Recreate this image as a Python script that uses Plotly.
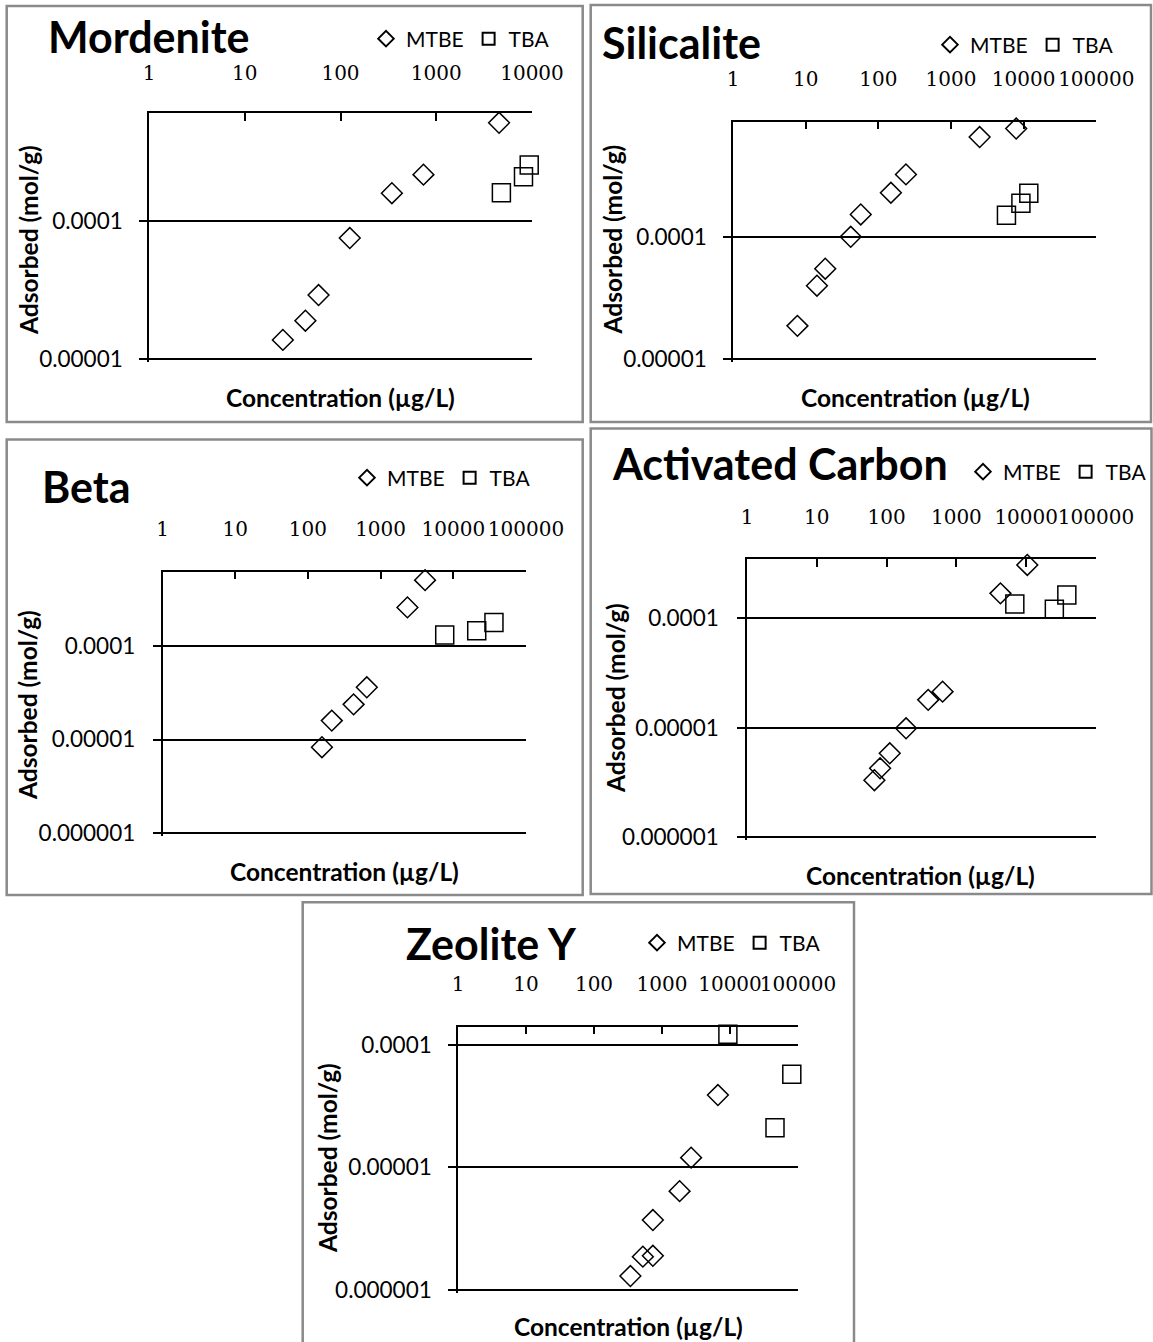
import math
import plotly.graph_objects as go

W, H = 1153, 1342

# ---- adsorption isotherm data: concentration (µg/L) vs adsorbed amount (mol/g) ----
mordenite_mtbe_conc = [25, 43, 59, 125, 344, 735, 4530]
mordenite_mtbe_ads = [1.38e-5, 1.90e-5, 2.91e-5, 7.5e-5, 1.58e-4, 2.15e-4, 5.09e-4]
mordenite_tba_conc = [4790, 8150, 9350]
mordenite_tba_ads = [1.59e-4, 2.08e-4, 2.52e-4]

silicalite_mtbe_conc = [7.7, 14.3, 18.6, 41.7, 57.3, 149, 240, 2480, 7900]
silicalite_mtbe_ads = [1.88e-5, 4.01e-5, 5.53e-5, 1.01e-4, 1.54e-4, 2.32e-4, 3.28e-4, 6.64e-4, 7.8e-4]
silicalite_tba_conc = [5800, 9170, 11780]
silicalite_tba_ads = [1.52e-4, 1.90e-4, 2.30e-4]

beta_mtbe_conc = [156, 213, 425, 646, 2340, 4090]
beta_mtbe_ads = [8.27e-6, 1.59e-5, 2.37e-5, 3.6e-5, 2.56e-4, 5.0e-4]
beta_tba_conc = [7620, 21000, 36250]
beta_tba_ads = [1.30e-4, 1.44e-4, 1.77e-4]

carbon_mtbe_conc = [66.9, 80.7, 111, 190, 394, 634, 4275, 10370]
carbon_mtbe_ads = [3.32e-6, 4.27e-6, 5.85e-6, 9.9e-6, 1.8e-5, 2.14e-5, 1.69e-4, 3.07e-4]
carbon_tba_conc = [6870, 25300, 38200]
carbon_tba_ads = [1.35e-4, 1.21e-4, 1.63e-4]

zeolite_mtbe_conc = [343, 523, 734, 734, 1815, 2680, 6640]
zeolite_mtbe_ads = [1.30e-6, 1.87e-6, 1.90e-6, 3.72e-6, 6.4e-6, 1.2e-5, 3.89e-5]
zeolite_tba_conc = [9310, 45900, 81100]
zeolite_tba_ads = [1.22e-4, 2.10e-5, 5.74e-5]

x_ticks_4 = [1, 10, 100, 1000, 10000]
x_ticks_5 = [1, 10, 100, 1000, 10000, 100000]
y_ticks_2 = [1e-5, 1e-4]
y_ticks_3 = [1e-6, 1e-5, 1e-4]
y_tick_text = {1e-6: "0.000001", 1e-5: "0.00001", 1e-4: "0.0001"}

# ---- panel layout (pixels) ----
panels = [
    dict(title="Mordenite", mtbe=(mordenite_mtbe_conc, mordenite_mtbe_ads),
         tba=(mordenite_tba_conc, mordenite_tba_ads), xt=x_ticks_4, yt=y_ticks_2,
         ymin=-5, ymax=-3.225, plot=(149, 113.3, 532, 359.3), box=(6.7, 6, 582.7, 422),
         title_pos=(46, 36), leg=(555, 39), ytitle=(28, 240), xtitle=(340, 397),
         ystand=12, xstand=24),
    dict(title="Silicalite", mtbe=(silicalite_mtbe_conc, silicalite_mtbe_ads),
         tba=(silicalite_tba_conc, silicalite_tba_ads), xt=x_ticks_5, yt=y_ticks_2,
         ymin=-5, ymax=-3.052, plot=(733, 121.7, 1096.3, 359.3), box=(590.7, 5, 1151, 422),
         title_pos=(599.6, 43), leg=(1119, 45), ytitle=(611.5, 240), xtitle=(915, 397),
         ystand=12, xstand=26),
    dict(title="Beta", mtbe=(beta_mtbe_conc, beta_mtbe_ads),
         tba=(beta_tba_conc, beta_tba_ads), xt=x_ticks_5, yt=y_ticks_3,
         ymin=-6, ymax=-3.211, plot=(162.5, 571.7, 526, 833.3), box=(6.7, 439.5, 582.7, 895),
         title_pos=(40, 486), leg=(536, 478), ytitle=(28, 705), xtitle=(344, 871.7),
         ystand=13, xstand=26),
    dict(title="Activated Carbon", mtbe=(carbon_mtbe_conc, carbon_mtbe_ads),
         tba=(carbon_tba_conc, carbon_tba_ads), xt=x_ticks_5, yt=y_ticks_3,
         ymin=-6, ymax=-3.461, plot=(747, 559.3, 1096, 837.3), box=(590.7, 428.5, 1151.5, 894),
         title_pos=(610, 463), leg=(1152, 472), ytitle=(615, 698), xtitle=(920, 875.7),
         ystand=14, xstand=26),
    dict(title="Zeolite Y", mtbe=(zeolite_mtbe_conc, zeolite_mtbe_ads),
         tba=(zeolite_tba_conc, zeolite_tba_ads), xt=x_ticks_5, yt=y_ticks_3,
         ymin=-6, ymax=-3.853, plot=(458, 1026.7, 798, 1290), box=(302.7, 902.3, 854, 1346),
         title_pos=(404, 943), leg=(826, 943), ytitle=(327, 1158), xtitle=(628.6, 1326.7),
         ystand=12, xstand=26),
]

SANS = "Lato, 'Open Sans', sans-serif"
SERIF = "'DejaVu Serif', serif"
BOTTOM_PAD = 2.5  # px below the lowest gridline so it is not clipped at the axis end


def fx(p):
    return p / W


def fy(p):
    return 1 - p / H


fig = go.Figure()
annotations = []
shapes = []
layout = {}

for i, pn in enumerate(panels, start=1):
    sfx = "" if i == 1 else str(i)
    leg_name = "legend" + sfx
    x0, y0, x1, y1 = pn["plot"]
    decade_px = (y1 - y0) / (pn["ymax"] - pn["ymin"])
    ymin = pn["ymin"] - BOTTOM_PAD / decade_px

    for name, (cx, cy), symbol, size in [("MTBE", pn["mtbe"], "diamond", 16),
                                         ("TBA", pn["tba"], "square", 18)]:
        fig.add_trace(go.Scatter(
            x=cx, y=cy, mode="markers", name=name,
            xaxis="x" + sfx, yaxis="y" + sfx, legend=leg_name,
            marker=dict(symbol=symbol, size=size, color="rgba(0,0,0,0)",
                        line=dict(color="black", width=1.5)),
            cliponaxis=False,
        ))

    layout["xaxis" + sfx] = dict(
        type="log", domain=[fx(x0), fx(x1)], anchor="y" + sfx, side="top",
        range=[0, math.log10(pn["xt"][-1])],
        tickvals=pn["xt"], ticktext=[str(v) for v in pn["xt"]],
        ticks="inside", ticklen=8, tickwidth=1.5, tickcolor="black",
        showline=True, linecolor="black", linewidth=1.5,
        showgrid=False, zeroline=False, tickangle=0, automargin=False,
        tickfont=dict(family=SERIF, size=20, color="black"),
        ticklabelstandoff=pn["xstand"],
    )
    layout["yaxis" + sfx] = dict(
        type="log", domain=[fy(y1 + BOTTOM_PAD), fy(y0)], anchor="x" + sfx,
        range=[ymin, pn["ymax"]],
        tickvals=pn["yt"], ticktext=[y_tick_text[v] for v in pn["yt"]],
        ticks="outside", ticklen=8, tickwidth=1.5, tickcolor="black",
        showline=True, linecolor="black", linewidth=1.5,
        showgrid=True, gridcolor="black", gridwidth=1.5, zeroline=False,
        automargin=False,
        tickfont=dict(family=SANS, size=22.5, color="black"),
        ticklabelstandoff=int(pn["ystand"]),
    )
    layout[leg_name] = dict(
        orientation="h", x=min(fx(pn["leg"][0]), 1.0), y=fy(pn["leg"][1]),
        xanchor="right", yanchor="middle", bgcolor="rgba(0,0,0,0)",
        font=dict(family=SANS, size=21, color="black"),
        itemsizing="constant", itemwidth=30, traceorder="normal",
    )

    annotations.append(dict(
        text="<b>%s</b>" % pn["title"], xref="paper", yref="paper",
        x=fx(pn["title_pos"][0]), y=fy(pn["title_pos"][1]),
        xanchor="left", yanchor="middle", showarrow=False,
        font=dict(family=SANS, size=43, color="black")))
    annotations.append(dict(
        text="<b>Adsorbed (mol/g)</b>", xref="paper", yref="paper",
        x=fx(pn["ytitle"][0]), y=fy(pn["ytitle"][1]), textangle=-90,
        xanchor="center", yanchor="middle", showarrow=False,
        font=dict(family=SANS, size=24.5, color="black")))
    annotations.append(dict(
        text="<b>Concentration (µg/L)</b>", xref="paper", yref="paper",
        x=fx(pn["xtitle"][0]), y=fy(pn["xtitle"][1]),
        xanchor="center", yanchor="middle", showarrow=False,
        font=dict(family=SANS, size=24.5, color="black")))

    bx0, by0, bx1, by1 = pn["box"]
    shapes.append(dict(type="rect", xref="paper", yref="paper",
                       x0=fx(bx0), x1=fx(bx1), y0=fy(by1), y1=fy(by0),
                       line=dict(color="#8a8a8a", width=2.5), layer="below"))

fig.update_layout(
    width=W, height=H, autosize=False,
    margin=dict(l=0, r=0, t=0, b=0, autoexpand=False),
    paper_bgcolor="white", plot_bgcolor="white",
    annotations=annotations, shapes=shapes,
    **layout,
)

fig.write_html("out.html")
